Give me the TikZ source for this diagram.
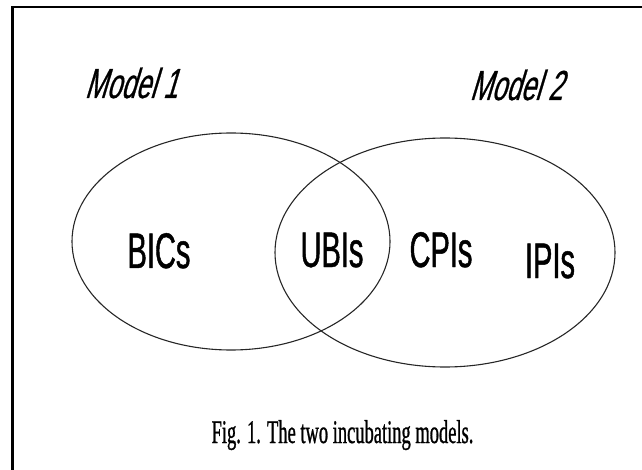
\documentclass[tikz,border=0pt]{standalone}
\usepackage{fontspec}
\setmainfont{Liberation Serif}
\newfontfamily\setfont[FakeStretch=0.58,FakeBold=0.9]{Liberation Sans}
\newfontfamily\modelfont[FakeStretch=0.62,FakeSlant=0.3,FakeBold=0.6]{Liberation Sans}
\newfontfamily\capfont[FakeStretch=0.56,FakeBold=0.8]{Liberation Serif}
\usetikzlibrary{shapes.geometric}

\begin{document}
\begin{tikzpicture}[x=1pt,y=-1pt,
	set/.style={ellipse,draw=black!85,line width=1.1pt,inner sep=0pt},
	lab/.style={anchor=base,inner sep=0pt,font=\setfont\fontsize{50}{50}\selectfont}]
	\useasboundingbox (0,0) rectangle (642,470);
	% frame
	\draw[line width=2.4pt] (12.5,470) -- (12.5,7) -- (642,7);
	% the two models
	\node[set,minimum width=318pt,minimum height=217pt] (model1) at (231,241.5) {};
	\node[set,minimum width=340pt,minimum height=229pt] (model2) at (445,252.5) {};
	\node[anchor=base,inner sep=0pt,font=\modelfont\fontsize{42}{42}\selectfont] (name1) at (131,98) {Model 1};
	\node[anchor=base,inner sep=0pt,font=\modelfont\fontsize{42}{42}\selectfont] (name2) at (516,100) {Model 2};
	\node[lab] (bics) at (159,268) {BICs};
	\node[lab] (ubis) at (332,267) {UBIs};
	\node[lab] (cpis) at (441,267) {CPIs};
	\node[lab] (ipis) at (550,278) {IPIs};
	\node[anchor=base,inner sep=0pt,font=\capfont\fontsize{33}{33}\selectfont] (caption) at (342.5,443) {Fig. 1. The two incubating models.};
\end{tikzpicture}
\end{document}
